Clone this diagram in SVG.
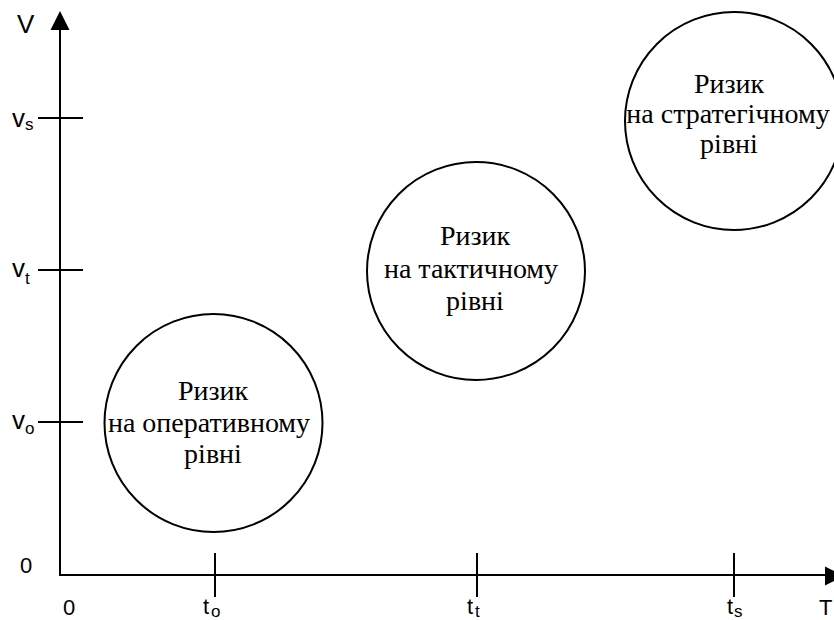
<svg xmlns="http://www.w3.org/2000/svg" width="834" height="620" viewBox="0 0 834 620">
<defs>
<style>
.ax{stroke:#000;stroke-width:2;fill:none}
.c{stroke:#000;stroke-width:2;fill:#fff}
.ct{font-size:28px;fill:#000;text-anchor:middle}
.lb{font-family:'Liberation Sans',Arial,sans-serif;font-size:26px;fill:#000}
.lt{font-family:'Liberation Sans',Arial,sans-serif;font-size:22px;fill:#000}
.sb{font-family:'Liberation Sans',Arial,sans-serif;font-size:17px;fill:#000}
</style>
</defs>
<rect width="834" height="620" fill="#fff"/>
<g id="axes">
<line class="ax" x1="60" y1="576" x2="60" y2="28"/>
<polygon points="60,11 50.5,30 69.5,30" fill="#000"/>
<line class="ax" x1="59" y1="575" x2="827" y2="575"/>
<polygon points="844,576 825,566.5 825,585.5" fill="#000"/>
<line class="ax" x1="38" y1="118" x2="83" y2="118"/>
<line class="ax" x1="38" y1="270" x2="83" y2="270"/>
<line class="ax" x1="38" y1="422" x2="83" y2="422"/>
<line class="ax" x1="215" y1="553" x2="215" y2="597"/>
<line class="ax" x1="477" y1="553" x2="477" y2="597"/>
<line class="ax" x1="734" y1="553" x2="734" y2="597"/>
</g>
<g id="labels">
<text class="lb" x="17" y="33">V</text>
<text class="lb" x="12" y="127">v</text><text class="sb" x="25" y="130">s</text>
<text class="lb" x="12" y="277">v</text><text class="sb" x="25" y="284">t</text>
<text class="lb" x="12" y="429">v</text><text class="sb" x="25" y="434">o</text>
<text class="lt" x="20" y="573">0</text>
<text class="lt" x="63" y="615">0</text>
<text class="lt" x="203" y="614">t</text><text class="sb" x="211" y="617">o</text>
<text class="lt" x="467" y="614">t</text><text class="sb" x="475" y="617">t</text>
<text class="lt" x="727" y="614">t</text><text class="sb" x="734" y="617">s</text>
<text class="lt" x="819" y="615">T</text>
</g>
<g id="node-operational" font-family="Liberation Serif, DejaVu Serif, serif">
<circle class="c" cx="213.5" cy="423" r="109"/>
<text class="ct" x="213" y="400">Ризик</text>
<text class="ct" x="209" y="432">на оперативному</text>
<text class="ct" x="213" y="463">рівні</text>
</g>
<g id="node-tactical" font-family="Liberation Serif, DejaVu Serif, serif">
<circle class="c" cx="476" cy="271" r="109"/>
<text class="ct" x="475" y="245">Ризик</text>
<text class="ct" x="471" y="278">на тактичному</text>
<text class="ct" x="475" y="310">рівні</text>
</g>
<g id="node-strategic" font-family="Liberation Serif, DejaVu Serif, serif">
<circle class="c" cx="734" cy="121" r="109"/>
<text class="ct" x="729" y="93">Ризик</text>
<text class="ct" x="728" y="123">на стратегічному</text>
<text class="ct" x="729" y="153">рівні</text>
</g>
</svg>
